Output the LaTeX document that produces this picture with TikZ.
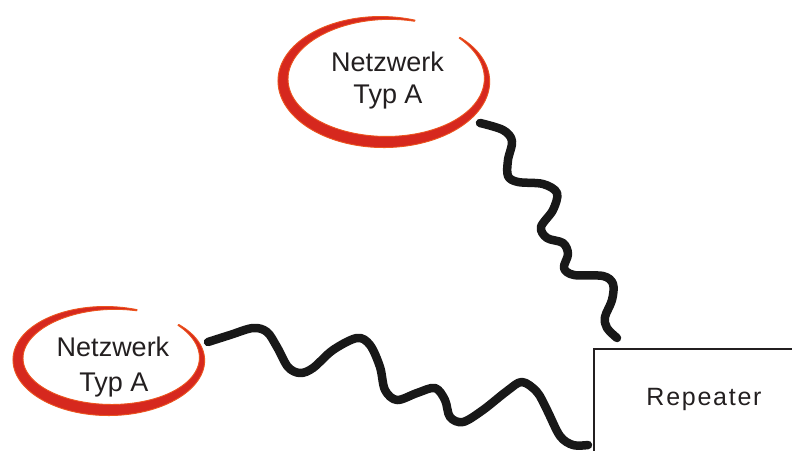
\documentclass[tikz,border=0pt]{standalone}
\usepackage{fontspec}
\setmainfont{Liberation Sans}
\definecolor{loopred}{RGB}{214,40,30}
\definecolor{looporange}{RGB}{236,84,30}
\definecolor{cable}{RGB}{24,24,24}
\definecolor{ink}{RGB}{35,31,32}

% Hand-drawn open loop: centre (#1,#2), radii #3/#4, from angle #5 to #6,
% stroke swelling in the middle and tapering at both ends.
\newcommand\sketchloop[6]{%
  \fill[loopred, draw=looporange, line width=0.9pt, line join=round]
    plot[domain=#5:#6, samples=140]
      ({#1+(#3+0.6+5.2*sin(((\x-(#5))/((#6)-(#5)))*180))*cos(\x)},
       {#2+(#4+0.6+5.2*sin(((\x-(#5))/((#6)-(#5)))*180))*sin(\x)})
    -- plot[domain=#6:#5, samples=140]
      ({#1+(#3-0.6-5.2*sin(((\x-(#5))/((#6)-(#5)))*180))*cos(\x)},
       {#2+(#4-0.6-5.2*sin(((\x-(#5))/((#6)-(#5)))*180))*sin(\x)})
    -- cycle;}

\tikzset{
  lbl/.style={text=ink, inner sep=0pt, font=\fontsize{27}{32}\selectfont},
  cablestroke/.style={draw=cable, line width=8.5pt, line cap=round, line join=round},
  boxline/.style={draw=ink, line width=2pt}
}

\begin{document}
\begin{tikzpicture}[x=1pt, y=-1pt]
\useasboundingbox (0,0) rectangle (792,450);
\fill[white] (0,0) rectangle (792,450);

% network loops
\sketchloop{385}{80}{102}{62}{-403}{-73}
\sketchloop{110}{359}{92}{51}{-402}{-73}

% labels
\node[lbl, anchor=base] (netTop) at (387.5,71.7) {Netzwerk};
\node[lbl, anchor=base] (typTop) at (388,103.3) {Typ A};
\node[lbl, anchor=base] (netLow) at (113,356.7) {Netzwerk};
\node[lbl, anchor=base] (typLow) at (114,391.7) {Typ A};

% repeater box (runs off the right and bottom edges)
\draw[boxline] (794,349) -- (594,349) -- (594,452);
\node[text=ink, inner sep=0pt, anchor=base,
      font=\fontsize{25}{30}\selectfont\addfontfeature{LetterSpace=7}]
      (rep) at (704,405) {Repeater};

% cable ends
\coordinate (topStart) at (480,123);
\coordinate (topEnd) at (617,338);
\coordinate (lowStart) at (208,342);
\coordinate (lowEnd) at (588,445);

% wavy cables
\draw[cablestroke] plot[smooth, tension=0.55] coordinates {
  (topStart) (503,130) (512,141) (508,160) (508,176) (518,182) (543,184)
  (557,193) (553,210) (541,227) (547,238) (563,243) (568,254) (564,268)
  (574,275) (603,276) (613,284) (612,300) (605,317) (607,328) (topEnd)};

\draw[cablestroke] plot[smooth, tension=0.55] coordinates {
  (lowStart) (230,335) (253,328) (267,332) (277,347) (288,367) (300,373)
  (313,368) (333,350) (357,338) (370,345) (380,367) (385,390) (397,400)
  (417,393) (435,388) (445,400) (450,417) (463,422) (483,410) (507,391)
  (522,382) (537,392) (547,410) (560,436) (573,445) (lowEnd)};
\end{tikzpicture}
\end{document}
